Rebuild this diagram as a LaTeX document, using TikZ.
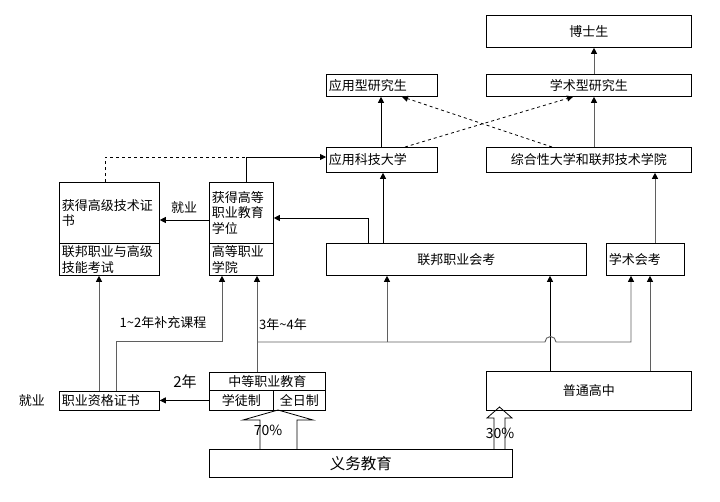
\documentclass[tikz,border=0pt]{standalone}
\usepackage{fontspec}
\setmainfont{Noto Sans CJK SC}
\usepackage{tikz}
\usetikzlibrary{arrows.meta}

\definecolor{linegray}{RGB}{95,95,95}

\tikzset{
	box/.style={draw, line width=0.8pt, anchor=north west, inner sep=0pt,
		font=\fontsize{13}{15.5}\selectfont},
	lbox/.style={box, align=left, inner xsep=2.5pt},
	conn/.style={line width=0.8pt, -{Triangle[length=6pt,width=6pt]}},
	conng/.style={line width=0.9pt, draw=linegray, -{Triangle[length=6pt,width=6pt,color=black]}},
	dconn/.style={conn, dashed},
	lbl/.style={inner sep=0pt, font=\fontsize{13}{15}\selectfont}
}

\begin{document}
\begin{tikzpicture}[x=1pt,y=-1pt]
			\useasboundingbox (0,0) rectangle (720,501);
			
			% top row
			\node[box, minimum width=205pt, minimum height=32pt] (boshi) at (486,15) {博士生};
			\node[box, minimum width=205pt, minimum height=22pt] (xsyan) at (486,74) {学术型研究生};
			\node[lbox, text width=106pt, minimum height=22pt] (yyyan) at (326,74) {应用型研究生};
			\node[lbox, text width=106pt, minimum height=25pt] (yykj) at (326,147) {应用科技大学};
			\node[box, minimum width=205pt, minimum height=25pt] (zonghe) at (486,147) {综合性大学和联邦技术学院};
			
			% middle row
			\node[lbox, text width=95pt, minimum height=61pt] (gaoji) at (59,182) {获得高级技术证\\书};
			\node[lbox, text width=95pt, minimum height=32pt] (gjks) at (59,243) {联邦职业与高级\\技能考试};
			\node[lbox, text width=59pt, minimum height=61pt] (gaodeng) at (209,182) {获得高等\\职业教育\\学位};
			\node[lbox, text width=59pt, minimum height=32pt] (gdxy) at (209,243) {高等职业\\学院};
			\node[box, minimum width=260pt, minimum height=32pt] (lbhk) at (326,243) {联邦职业会考};
			\node[lbox, text width=73pt, minimum height=32pt] (xshk) at (606,243) {学术会考};
			
			% bottom row
			\node[lbox, text width=95pt, minimum height=19pt] (zige) at (59,391) {职业资格证书};
			\node[box, minimum width=116pt, minimum height=18pt] (zhongdeng) at (209,372) {中等职业教育};
			\node[box, minimum width=64pt, minimum height=20pt] (xuetu) at (209,390) {学徒制};
			\node[box, minimum width=52pt, minimum height=20pt] (quanri) at (273,390) {全日制};
			\node[box, minimum width=205pt, minimum height=39pt] (putong) at (486,371) {普通高中};
			\node[box, minimum width=303pt, minimum height=28pt, font=\fontsize{15.5}{18}\selectfont] (yiwu) at (209,449) {义务教育};
			
			\coordinate (jn) at (246,157);
			\coordinate (hz) at (387,342);
			\coordinate (bk) at (222,341);
			
			% connectors
			\draw[conn] (gaodeng.west |- 0,220) -- (gaoji.east |- 0,220);
			\draw[conn] (gaodeng.north -| jn) |- (yykj.west |- jn);
			\draw[line width=0.8pt, dashed] (gaoji.north -| 105,0) |- (jn);
			\draw[conn] (lbhk.north -| 368,0) |- (gaodeng.east |- 0,218);
			\draw[conn] (lbhk.north -| 383,0) -- (yykj.south -| 383,0);
			\draw[conn] (yykj.north -| 381,0) -- (yyyan.south -| 381,0);
			\draw[conng] (zonghe.north -| 594,0) -- (xsyan.south -| 594,0);
			\draw[conng] (xsyan.north -| 594,0) -- (boshi.south -| 594,0);
			\draw[dconn] (yykj.north -| 405,0) -- (xsyan.south -| 573,0);
			\draw[dconn] (zonghe.north -| 552,0) -- (yyyan.south -| 402,0);
			\draw[conng] (xshk.north -| 655,0) -- (zonghe.south -| 655,0);
			\draw[conn] (putong.north -| 550,0) -- (lbhk.south -| 550,0);
			\draw[conng] (putong.north -| 650,0) -- (xshk.south -| 650,0);
			\draw[conng] (zhongdeng.north -| 257,0) -- (gdxy.south -| 257,0);
			\draw[conng] (257,342) -- (545,342) arc[start angle=180, end angle=0, radius=5.5pt]
				-- (631,342) -- (xshk.south -| 631,0);
			\draw[conng] (hz) -- (lbhk.south -| hz);
			\draw[conng] (zige.north -| 99,0) -- (gjks.south -| 99,0);
			\draw[conng] (zige.north -| 116,0) |- (bk) -- (gdxy.south -| bk);
			\draw[conn] (xuetu.west) -- (zige.east |- xuetu.west);
			
			% block arrows
			\draw[line width=0.8pt] (260,449) -- (260,420) -- (243,420) -- (278,410)
				-- (313,420) -- (297,420) -- (297,449);
			\draw[line width=0.8pt] (494,449) -- (494,418) -- (487,418) -- (499.5,407)
				-- (512,418) -- (505,418) -- (505,449);
			
			% labels
			\node[lbl] (jiuyea) at (32,401) {就业};
			\node[lbl] (jiuyeb) at (184,208) {就业};
			\node[lbl, font=\fontsize{15}{17}\selectfont] (ernian) at (185,382) {2年};
			\node[lbl] (buchong) at (163,323) {1\textasciitilde2年补充课程};
			\node[lbl] (sannian) at (283,325) {3年\textasciitilde4年};
			\node[lbl, font=\fontsize{14}{16}\selectfont] (qishi) at (268,430) {70\%};
			\node[lbl, font=\fontsize{14}{16}\selectfont] (sanshi) at (500,433) {30\%};
\end{tikzpicture}
\end{document}
